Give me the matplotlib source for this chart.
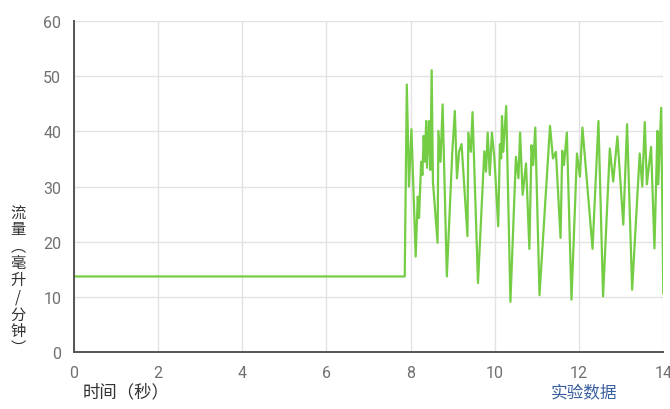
"""Flow rate vs time - experimental data"""
import matplotlib
matplotlib.use('Agg')
import matplotlib.pyplot as plt

plt.rcParams['font.family'] = ['Noto Sans CJK SC', 'DejaVu Sans']

# time (s) and flow (ml/min)
time_s = [0.0, 7.86, 7.91, 7.96, 8.02, 8.12, 8.17, 8.20, 8.25, 8.28, 8.31, 8.34, 8.37,
          8.39, 8.44, 8.47, 8.50, 8.53, 8.64, 8.66, 8.71, 8.76, 8.86, 8.99, 9.05, 9.10,
          9.15, 9.21, 9.35, 9.37, 9.43, 9.47, 9.60, 9.75, 9.79, 9.83, 9.88, 9.93, 9.99,
          10.08, 10.12, 10.15, 10.17, 10.20, 10.27, 10.37, 10.50, 10.56, 10.60, 10.66,
          10.74, 10.82, 10.87, 10.91, 10.96, 11.06, 11.31, 11.38, 11.45, 11.56, 11.60,
          11.64, 11.71, 11.82, 11.95, 12.02, 12.08, 12.32, 12.46, 12.57, 12.73, 12.81,
          12.91, 13.05, 13.14, 13.26, 13.44, 13.50, 13.56, 13.61, 13.71, 13.79, 13.86,
          13.88, 13.95, 14.0]
flow = [13.7, 13.7, 48.5, 30.0, 40.4, 17.3, 28.2, 24.3, 34.5, 32.1, 39.2, 34.5, 41.9,
        33.4, 41.9, 33.0, 51.1, 30.9, 19.8, 40.1, 34.5, 44.9, 13.7, 36.3, 43.7, 31.5,
        36.3, 37.7, 21.0, 39.8, 36.3, 43.5, 12.5, 36.4, 32.7, 39.8, 32.1, 39.8, 35.1,
        22.8, 37.7, 35.1, 42.8, 36.3, 44.6, 9.1, 35.4, 31.5, 39.8, 28.5,
        34.2, 18.7, 37.5, 33.9, 40.7, 10.3, 41.0, 35.1, 36.3, 20.7, 36.5,
        33.9, 39.8, 9.5, 36.0, 31.8, 40.7, 18.7, 41.9, 10.1, 36.9, 30.9,
        39.1, 23.1, 41.3, 11.3, 36.0, 30.0, 41.7, 30.4, 37.2, 18.8, 40.1,
        30.4, 44.3, 10.6]
x_ticks = [0, 2, 4, 6, 8, 10, 12, 14]
y_ticks = [0, 10, 20, 30, 40, 50, 60]

fig = plt.figure(figsize=(6.7, 4.1), dpi=100)
ax = fig.add_axes([0.110, 0.139, 0.880, 0.807])
ax.plot(time_s, flow, color='#74cd44', lw=1.6)

ax.set_xlim(0, 14); ax.set_ylim(0, 60)
ax.set_xticks(x_ticks); ax.set_yticks(y_ticks)
ax.grid(True, color='#e3e3e3', lw=1.0)
ax.set_axisbelow(True)
ax.tick_params(length=0, pad=9, labelsize=11.5, labelcolor='#707070')
for lbl in ax.get_xticklabels() + ax.get_yticklabels():
    lbl.set_family(['Roboto', 'DejaVu Sans'])
for s in ['top', 'right']:
    ax.spines[s].set_visible(False)
for s in ['left', 'bottom']:
    ax.spines[s].set_color('#555555'); ax.spines[s].set_linewidth(1.4)

fig.text(0.027, 0.315, '流\n量\n︵\n毫\n升\n/\n分\n钟\n︶', ha='center', va='center',
         fontsize=11, color='#333333', linespacing=1.0)
fig.text(0.188, 0.02, '时间（秒）', ha='center', va='bottom', fontsize=12.5, color='#333333')
fig.text(0.872, 0.02, '实验数据', ha='center', va='bottom', fontsize=12, color='#3a5f9f')

fig.savefig('out.png', dpi=100)
plt.close(fig)
